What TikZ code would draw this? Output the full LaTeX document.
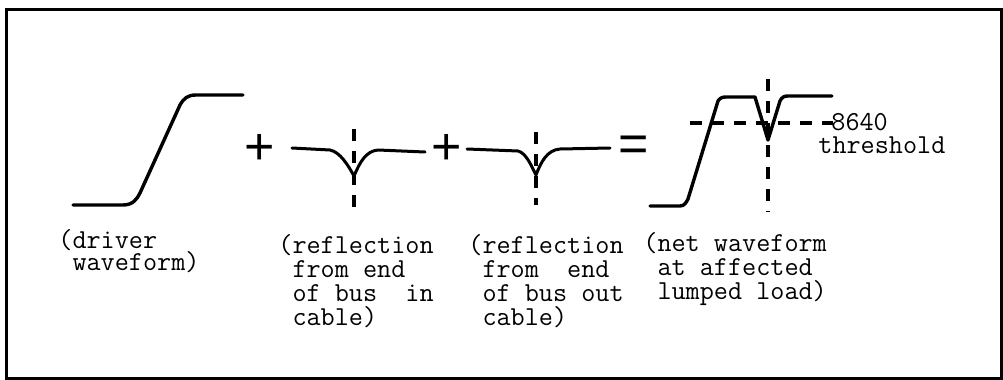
\documentclass[tikz,border=0pt]{standalone}
\usepackage{fontspec}
\newfontfamily\symf{Liberation Sans}
\begin{document}
\begin{tikzpicture}[x=0.5pt,y=-0.5pt,
  wave/.style={line width=1.7pt,line cap=round,line join=round},
  thin wave/.style={line width=1.5pt,line cap=round,line join=round},
  guide/.style={line width=1.6pt,dash pattern=on 6pt off 5pt},
  lbl/.style={font=\ttfamily\addfontfeatures{FakeBold=0.5}\fontsize{13.7}{12}\selectfont,inner sep=0pt,anchor=base west},
  lbltight/.style={font=\ttfamily\addfontfeatures{FakeBold=0.5}\fontsize{13.7}{11}\selectfont,inner sep=0pt,anchor=base west},
  op/.style={font=\symf\fontsize{26}{26}\selectfont,inner sep=0pt}]
\useasboundingbox (0,0) rectangle (1003,380);
% frame
\draw[line width=1.5pt] (6,9) rectangle (1001,378);
% driver waveform
\draw[wave] (73,205) -- (123,205) .. controls (133,205) and (137,199) .. (140,193)
  -- (180,105) .. controls (184,98) and (188,95) .. (196,95) -- (243,95);
% plus 1
\node[op] (plus1) at (260,149) {+};
% reflection 1
\draw[thin wave] (292,148) -- (330,150) .. controls (340,152) and (348,165) .. (354,176)
  .. controls (360,162) and (366,151) .. (378,150) -- (425,152);
\draw[guide] (354,129) -- (354,213);
% plus 2
\node[op] (plus2) at (447,149) {+};
% reflection 2
\draw[thin wave] (467,149) -- (518,151) .. controls (526,153) and (531,165) .. (536,175)
  .. controls (541,162) and (547,150) .. (560,149) -- (610,148);
\draw[guide] (536,132) -- (536,205);
% equals
\node[op] (eq) at (634,149) {=};
% net waveform
\draw[wave] (650,206) -- (680,206) .. controls (684,206) and (686,203) .. (688,199)
  -- (718,101) .. controls (720,98) and (722,97) .. (726,97) -- (755,97) -- (768,140)
  -- (780,101) .. controls (782,97) and (784,96) .. (788,96) -- (832,96);
\draw[guide] (768,79) -- (768,212);
\draw[guide] (690,123) -- (833,123);
\node[lbl] (thr) at (831,130) {8640};
\node[lbl] (thr2) at (818,153) {threshold};
% labels
\node[lbltight] (ldrv) at (58,248) {\vtop{\hbox{(driver}\hbox{\ waveform)}}};
\node[lbl] (lref1) at (278,253) {\vtop{\hbox{(reflection}\hbox{\ from end}\hbox{\ of bus\ \ in}\hbox{\ cable)}}};
\node[lbl] (lref2) at (468,253) {\vtop{\hbox{(reflection}\hbox{\ from\ \ end}\hbox{\ of bus out}\hbox{\ cable)}}};
\node[lbl] (lnet) at (643,251) {\vtop{\hbox{(net waveform}\hbox{\ at affected}\hbox{\ lumped load)}}};
\end{tikzpicture}
\end{document}
